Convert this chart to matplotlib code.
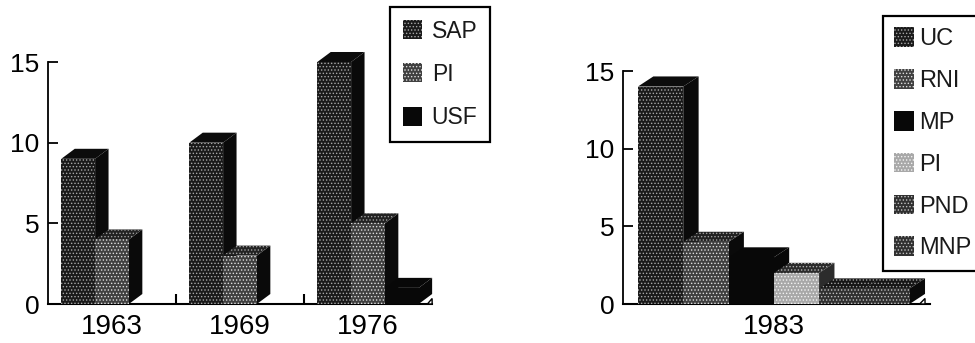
import matplotlib
matplotlib.use("Agg")
import matplotlib.pyplot as plt
from matplotlib.patches import Patch

plt.rcParams['font.family'] = ['Liberation Sans', 'DejaVu Sans']
plt.rcParams['text.color'] = '#1a1a1a'
plt.rcParams['hatch.linewidth'] = 0.6

# Left chart
years = ['1963', '1969', '1976']
sap = [9, 10, 15]
pi_left = [4, 3, 5]
usf = [0, 0, 1]

# Right chart
parties = ['UC', 'RNI', 'MP', 'PI', 'PND', 'MNP']
seats_1983 = [14, 4, 3, 2, 1, 1]

# front colour, dots colour, hatch, top colour, top dots, side colour
DARK = ('#1a1a1a', '#a8a8a8', '.....', '#0c0c0c', None, '#0a0a0a')
MID = ('#404040', '#e0e0e0', '.....', '#222222', '#a0a0a0', '#0a0a0a')
BLACK = ('#080808', None, None, '#080808', None, '#080808')
LIGHT = ('#a8a8a8', '#f4f4f4', '.....', '#2c2c2c', '#b4b4b4', '#2c2c2c')
MID2 = ('#303030', '#c0c0c0', '.....', '#161616', '#a0a0a0', '#0a0a0a')


def bar3d(ax, x, val, w, dx, dy, style):
    front, dots, hatch, top, top_dots, side = style
    if val == 0:
        return
    # side face, then top, then the front through ax.bar
    ax.fill([x + w / 2, x + w / 2 + dx, x + w / 2 + dx, x + w / 2],
            [val, val + dy, dy, 0], color=side, lw=0, clip_on=False, zorder=3)
    ax.fill([x - w / 2, x - w / 2 + dx, x + w / 2 + dx, x + w / 2],
            [val, val + dy, val + dy, val], facecolor=top,
            edgecolor=top_dots if top_dots else top,
            hatch=hatch if top_dots else None, lw=0, clip_on=False, zorder=3)
    ax.bar(x, val, w, color=front, edgecolor=dots if dots else front, hatch=hatch,
           lw=0, zorder=3)


def floor_corner(ax, x, w, dx, dy):
    # small white wedge under the side of the last bar
    ax.fill([x + w / 2 + dx * 0.65, x + w / 2 + dx, x + w / 2 + dx],
            [0, dy * 0.55, 0], facecolor='white', edgecolor='black', lw=1.0,
            clip_on=False, zorder=4)


def style_axes(ax):
    ax.set_ylim(0, 15)
    ax.set_yticks([0, 5, 10, 15])
    ax.spines['top'].set_visible(False)
    ax.spines['right'].set_visible(False)
    ax.spines['left'].set_linewidth(1.3)
    ax.spines['bottom'].set_linewidth(1.5)
    ax.tick_params(axis='y', direction='in', length=7, width=1.3, labelsize=19, pad=6)
    ax.tick_params(axis='x', which='major', length=0, labelsize=20, pad=7)
    ax.patch.set_alpha(0)


def add_legend(ax, handles, x, y, size, spacing, textpad, pad):
    leg = ax.legend(handles=handles, loc='upper left', bbox_to_anchor=(x / 975, 1 - y / 343),
                    bbox_transform=ax.figure.transFigure, fontsize=size, fancybox=False,
                    framealpha=1, edgecolor='black', borderaxespad=0, borderpad=pad,
                    labelspacing=spacing, handlelength=0.85, handleheight=0.9,
                    handletextpad=textpad)
    leg.get_frame().set_linewidth(1.6)
    leg.set_zorder(10)


fig = plt.figure(figsize=(9.75, 3.43), dpi=100)

# 1963 / 1969 / 1976
ax1 = fig.add_axes([48 / 975, 39 / 343, 384 / 975, 242 / 343])
w = 0.264
dx1 = 0.105
series = [(sap, DARK, 'SAP'), (pi_left, MID, 'PI'), (usf, BLACK, 'USF')]
for j, (vals, st, name) in enumerate(series):
    for i, v in enumerate(vals):
        bar3d(ax1, i + (j - 1) * w, v, w, dx1, 0.62, st)
floor_corner(ax1, 2 + w, w, dx1, 0.62)
ax1.set_xlim(-0.5, 2.5)
style_axes(ax1)
ax1.set_xticks(range(3))
ax1.set_xticklabels(years)
ax1.set_xticks([0.5, 1.5], minor=True)
ax1.tick_params(axis='x', which='minor', direction='in', length=7, width=1.5)
handles = [Patch(facecolor=s[1][0], edgecolor=s[1][1] if s[1][1] else s[1][0], hatch=s[1][2],
                 lw=0, label=s[2]) for s in series]
add_legend(ax1, handles, 390, 7, 16.5, 0.88, 0.42, 0.55)

# 1983
ax2 = fig.add_axes([623 / 975, 39 / 343, 307 / 975, 233 / 343])
styles = [DARK, MID, BLACK, LIGHT, MID2, MID2]
for i, v in enumerate(seats_1983):
    bar3d(ax2, i, v, 1.0, 0.34, 0.65, styles[i])
floor_corner(ax2, 5, 1.0, 0.34, 0.65)
ax2.set_xlim(-0.83, 5.95)
style_axes(ax2)
ax2.set_xticks([2.5])
ax2.set_xticklabels(['1983'])
handles = [Patch(facecolor=st[0], edgecolor=st[1] if st[1] else st[0], hatch=st[2], lw=0, label=p)
           for p, st in zip(parties, styles)]
add_legend(ax2, handles, 883, 16, 17, 0.8, 0.22, 0.48)

fig.savefig('out.png', dpi=100)
